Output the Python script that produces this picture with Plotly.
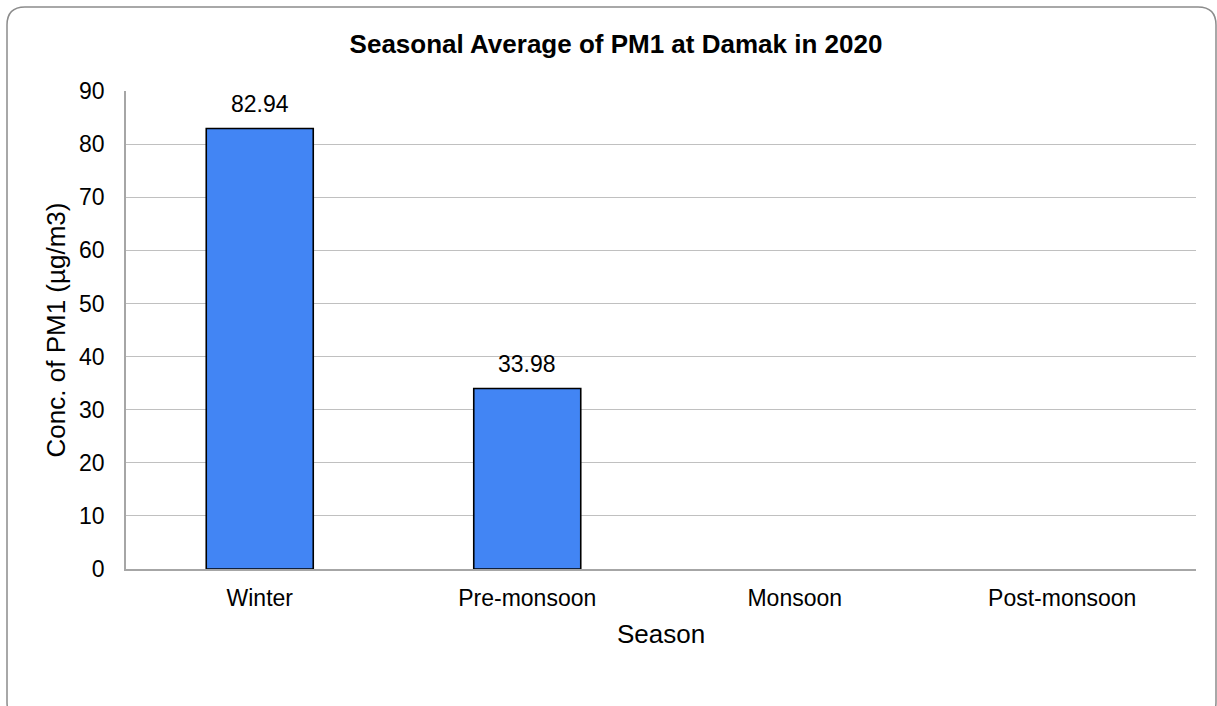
import plotly.graph_objects as go

seasons = ["Winter", "Pre-monsoon", "Monsoon", "Post-monsoon"]
pm1_values = [82.94, 33.98, None, None]
value_labels = ["82.94", "33.98"]

W, H = 1217, 706
L, R, T, B = 126, 21, 91, 137
pw, ph = W - L - R, H - T - B
FONT = "Liberation Sans, Arial"

def px(x):
    return (x - L) / pw

def py(y):
    return (H - B - y) / ph

fig = go.Figure()
fig.add_trace(go.Bar(
    x=seasons, y=pm1_values, width=0.4,
    marker=dict(color="#4285F4", line=dict(color="#000000", width=1.6)),
))

for s, v, lab in zip(seasons, pm1_values, value_labels):
    fig.add_annotation(x=s, y=v, text=lab, showarrow=False, yanchor="bottom",
                       yshift=10, font=dict(family=FONT, size=23, color="#000000"))

# rounded chart border
x0, x1, y0, y1 = 7, 1216, 7, 720
r = 18
path = (
    f"M {px(x0 + r)},{py(y0)} L {px(x1 - r)},{py(y0)} "
    f"Q {px(x1)},{py(y0)} {px(x1)},{py(y0 + r)} "
    f"L {px(x1)},{py(y1 - r)} Q {px(x1)},{py(y1)} {px(x1 - r)},{py(y1)} "
    f"L {px(x0 + r)},{py(y1)} Q {px(x0)},{py(y1)} {px(x0)},{py(y1 - r)} "
    f"L {px(x0)},{py(y0 + r)} Q {px(x0)},{py(y0)} {px(x0 + r)},{py(y0)} Z"
)
fig.add_shape(type="path", path=path, xref="paper", yref="paper",
              line=dict(color="#8c8c8c", width=1.5), layer="above")

fig.update_layout(
    width=W, height=H,
    margin=dict(l=L, r=R, t=T, b=B),
    paper_bgcolor="white", plot_bgcolor="white",
    font=dict(family=FONT, color="#000000"),
    title=dict(text="<b>Seasonal Average of PM1 at Damak in 2020</b>",
               x=px(616), xref="paper", xanchor="center",
               y=1 - 44 / H, yanchor="middle",
               font=dict(size=26, color="#000000")),
    showlegend=False,
)
fig.update_yaxes(
    range=[0, 90], dtick=10, showgrid=True, gridcolor="#c0c0c0", gridwidth=1.3,
    showline=True, linecolor="#a6a6a6", linewidth=1.5, zeroline=False,
    tickfont=dict(size=23), ticks="", ticklabelstandoff=15,
    title=dict(text="Conc. of PM1 (µg/m3)", font=dict(size=26), standoff=6),
)
fig.update_xaxes(
    showline=True, linecolor="#a6a6a6", linewidth=1.5, showgrid=False,
    tickfont=dict(size=23), ticks="", ticklabelstandoff=8,
    title=dict(text="Season", font=dict(size=26), standoff=14),
)

fig.write_html("out.html", config={"displayModeBar": False},
               post_script="document.body.style.margin='0px';")
